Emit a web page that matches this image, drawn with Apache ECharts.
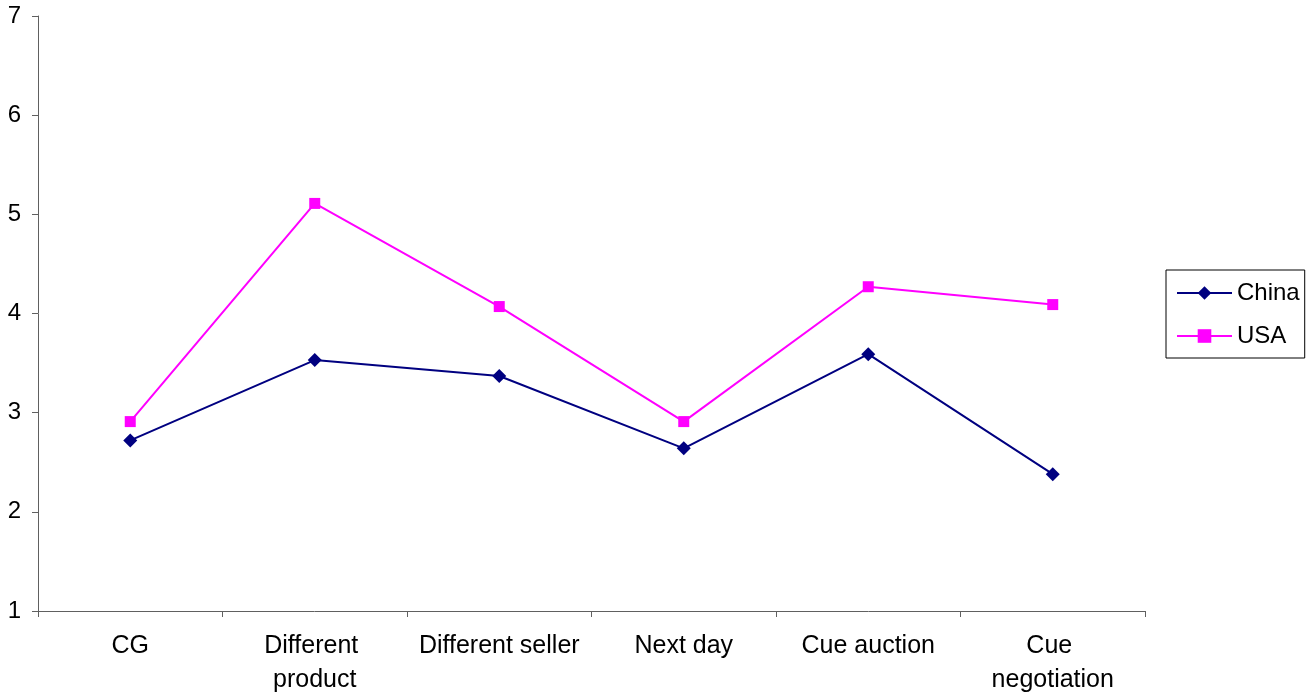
<!DOCTYPE html>
<html>
<head>
<meta charset="utf-8">
<script src="https://cdn.jsdelivr.net/npm/echarts@6/dist/echarts.min.js"></script>
<style>
html, body { margin: 0; padding: 0; background: #fff; }
#chart { width: 1310px; height: 697px; }
</style>
</head>
<body>
<div id="chart"></div>
<script>
// categories and values
var categories = ['CG', 'Different product', 'Different seller', 'Next day', 'Cue auction', 'Cue negotiation'];
var chinaValues = [2.72, 3.53, 3.37, 2.64, 3.59, 2.38];
var usaValues = [2.91, 5.11, 4.07, 2.91, 4.27, 4.09];
var yTicks = [1, 2, 3, 4, 5, 6, 7];

var chart = echarts.init(document.getElementById('chart'));
var font = 'Liberation Sans, Arial, sans-serif';

var option = {
    animation: false,
    backgroundColor: '#fff',
    grid: { left: 38, top: 16, right: 165, bottom: 86, outerBoundsMode: 'none', containLabel: false },
    legend: {
        orient: 'vertical',
        left: 1166,
        top: 270,
        data: ['China', 'USA'],
        borderColor: '#000',
        borderWidth: 1,
        padding: [11, 5, 10, 10],
        itemWidth: 55,
        itemHeight: 17,
        itemGap: 19,
        textStyle: { fontFamily: font, fontSize: 24, color: '#000' }
    },
    xAxis: {
        type: 'category',
        data: categories,
        boundaryGap: true,
        axisLine: { lineStyle: { color: '#606060', width: 1 } },
        axisTick: { show: true, length: 6, lineStyle: { color: '#606060' } },
        axisLabel: {
            interval: 0,
            margin: 18,
            width: 170,
            overflow: 'break',
            lineHeight: 34,
            fontFamily: font,
            fontSize: 25,
            color: '#000'
        },
        splitLine: { show: false }
    },
    yAxis: {
        type: 'value',
        min: yTicks[0],
        max: yTicks[yTicks.length - 1],
        interval: 1,
        axisLine: { show: true, lineStyle: { color: '#606060', width: 1 } },
        axisTick: { show: true, length: 6, lineStyle: { color: '#606060' } },
        axisLabel: { margin: 17, fontFamily: font, fontSize: 24, color: '#000' },
        splitLine: { show: false }
    },
    series: [
        {
            name: 'China',
            type: 'line',
            data: chinaValues,
            symbol: 'diamond',
            symbolSize: 14,
            itemStyle: { color: '#000080' },
            lineStyle: { color: '#000080', width: 2 }
        },
        {
            name: 'USA',
            type: 'line',
            data: usaValues,
            symbol: 'rect',
            symbolSize: 11,
            itemStyle: { color: '#FF00FF' },
            lineStyle: { color: '#FF00FF', width: 2 }
        }
    ]
};

chart.setOption(option);
</script>
</body>
</html>
